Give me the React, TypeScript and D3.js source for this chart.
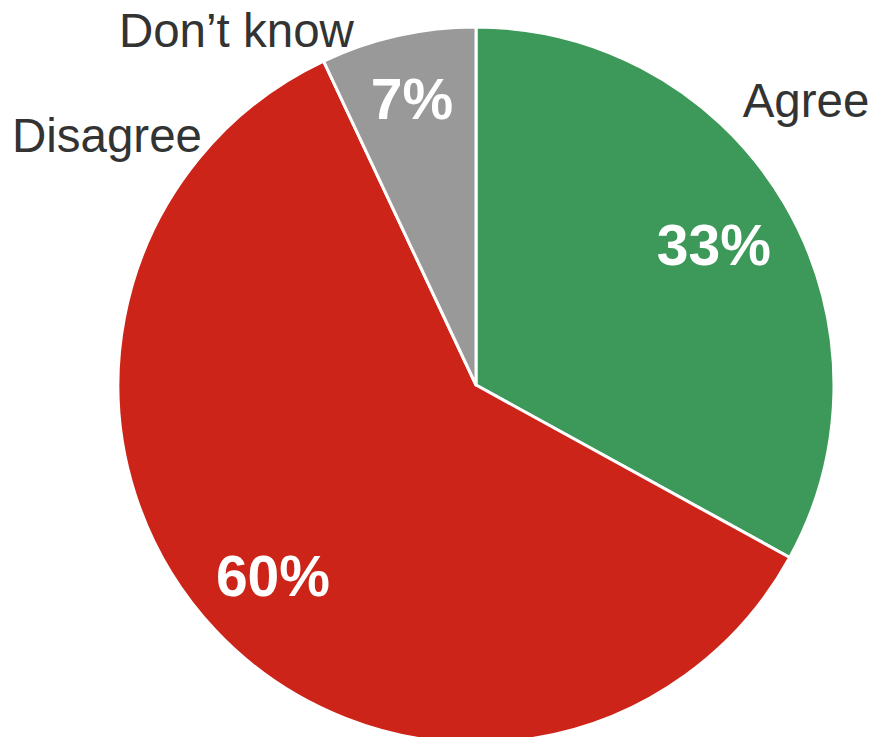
import React from "react";
import * as d3 from "d3";

const categories = ["Agree", "Disagree", "Don't know"];
const values = [33, 60, 7];
const valueLabels = ["33%", "60%", "7%"];
const colors = ["#3d9959", "#cc2418", "#999999"];

const W = 874;
const H = 737;
const cx = 476;
const cy = 385;
const R = 358;

// label radius fraction for inside labels
const innerLabelR = [0.772, 0.778, 0.82];
// outer category label placement: angle (deg clockwise from top), radius fraction
const outerAngle = [49.2, 304.1, 326];
const outerR = [1.218, 1.245, 1.197];

export default function App() {
  const pie = d3.pie<number>().sort(null).value((d) => d)(values);
  const arc = d3.arc<d3.PieArcDatum<number>>().innerRadius(0).outerRadius(R);
  return (
    <svg
      width={W}
      height={H}
      style={{ position: "absolute", left: 0, top: 0, background: "#fff" }}
    >
      <g transform={`translate(${cx},${cy})`}>
        {pie.map((p, i) => (
          <path key={i} d={arc(p) || ""} fill={colors[i]} stroke="#fff" strokeWidth={3} strokeLinejoin="round" />
        ))}
        {pie.map((p, i) => {
          const a = (p.startAngle + p.endAngle) / 2;
          const r = R * innerLabelR[i];
          return (
            <text
              key={"v" + i}
              x={Math.sin(a) * r}
              y={-Math.cos(a) * r}
              dy="0.36em"
              textAnchor="middle"
              fill="#fff"
              fontFamily="Liberation Sans, Arial, sans-serif"
              fontWeight="bold"
              fontSize={57}
            >
              {valueLabels[i]}
            </text>
          );
        })}
        {categories.map((c, i) => {
          const a = (outerAngle[i] * Math.PI) / 180;
          const r = R * outerR[i];
          return (
            <text
              key={"c" + i}
              x={Math.sin(a) * r}
              y={-Math.cos(a) * r}
              dy="0.36em"
              textAnchor="middle"
              fill="#333333"
              fontFamily="Liberation Sans, Arial, sans-serif"
              fontSize={47.5}
            >
              {c === "Don't know" ? "Don\u2019t know" : c}
            </text>
          );
        })}
      </g>
    </svg>
  );
}
